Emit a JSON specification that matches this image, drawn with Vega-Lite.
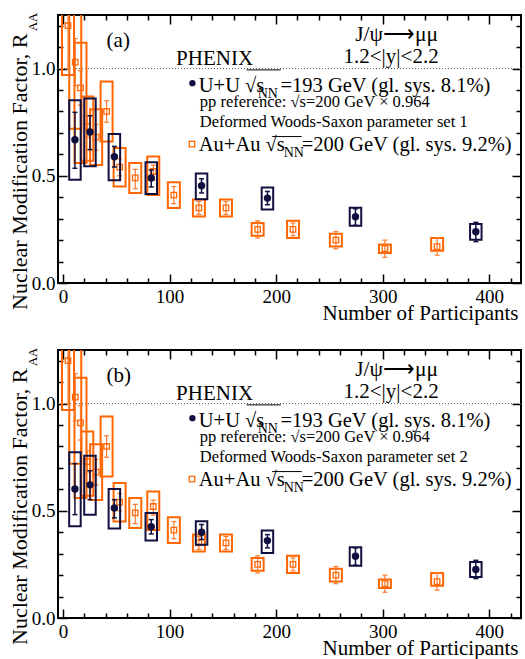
{
  "$schema": "https://vega.github.io/schema/vega-lite/v6.json",
  "background": "white",
  "padding": {"left": 7, "top": 12, "right": 2, "bottom": 0},
  "config": {
    "view": {"stroke": "black", "strokeWidth": 2},
    "text": {"font": "Liberation Serif", "color": "black"}
  },
  "datasets": {
    "one": [{}],
    "auau": [
      {"npart": 4.7, "raa": 1.20, "stat_lo": 1.00, "stat_hi": 1.40, "sys_lo": 0.97, "sys_hi": 1.43},
      {"npart": 11.5, "raa": 1.03, "stat_lo": 0.92, "stat_hi": 1.14, "sys_lo": 0.72, "sys_hi": 1.34},
      {"npart": 16.4, "raa": 0.91, "stat_lo": 0.83, "stat_hi": 0.99, "sys_lo": 0.56, "sys_hi": 1.12},
      {"npart": 22.8, "raa": 0.73, "stat_lo": 0.68, "stat_hi": 0.78, "sys_lo": 0.57, "sys_hi": 0.87},
      {"npart": 31.1, "raa": 0.68, "stat_lo": 0.62, "stat_hi": 0.74, "sys_lo": 0.55, "sys_hi": 0.81},
      {"npart": 40.9, "raa": 0.80, "stat_lo": 0.75, "stat_hi": 0.85, "sys_lo": 0.66, "sys_hi": 0.94},
      {"npart": 53.1, "raa": 0.54, "stat_lo": 0.50, "stat_hi": 0.58, "sys_lo": 0.45, "sys_hi": 0.63},
      {"npart": 67.8, "raa": 0.49, "stat_lo": 0.44, "stat_hi": 0.53, "sys_lo": 0.42, "sys_hi": 0.56},
      {"npart": 84.7, "raa": 0.52, "stat_lo": 0.48, "stat_hi": 0.55, "sys_lo": 0.41, "sys_hi": 0.59},
      {"npart": 104.0, "raa": 0.41, "stat_lo": 0.37, "stat_hi": 0.45, "sys_lo": 0.35, "sys_hi": 0.47},
      {"npart": 127.5, "raa": 0.35, "stat_lo": 0.32, "stat_hi": 0.38, "sys_lo": 0.31, "sys_hi": 0.39},
      {"npart": 152.9, "raa": 0.35, "stat_lo": 0.32, "stat_hi": 0.38, "sys_lo": 0.31, "sys_hi": 0.39},
      {"npart": 182.6, "raa": 0.25, "stat_lo": 0.21, "stat_hi": 0.29, "sys_lo": 0.22, "sys_hi": 0.28},
      {"npart": 215.8, "raa": 0.25, "stat_lo": 0.22, "stat_hi": 0.28, "sys_lo": 0.21, "sys_hi": 0.29},
      {"npart": 256.0, "raa": 0.20, "stat_lo": 0.16, "stat_hi": 0.24, "sys_lo": 0.17, "sys_hi": 0.23},
      {"npart": 302.0, "raa": 0.16, "stat_lo": 0.12, "stat_hi": 0.20, "sys_lo": 0.14, "sys_hi": 0.18},
      {"npart": 351.0, "raa": 0.17, "stat_lo": 0.13, "stat_hi": 0.21, "sys_lo": 0.15, "sys_hi": 0.21}
    ],
    "uu_a": [
      {"npart": 11.2, "raa": 0.668, "stat_lo": 0.535, "stat_hi": 0.796, "sys_lo": 0.482, "sys_hi": 0.852},
      {"npart": 25.3, "raa": 0.704, "stat_lo": 0.622, "stat_hi": 0.780, "sys_lo": 0.544, "sys_hi": 0.861},
      {"npart": 48.2, "raa": 0.589, "stat_lo": 0.541, "stat_hi": 0.637, "sys_lo": 0.479, "sys_hi": 0.695},
      {"npart": 82.8, "raa": 0.490, "stat_lo": 0.448, "stat_hi": 0.527, "sys_lo": 0.415, "sys_hi": 0.563},
      {"npart": 130.0, "raa": 0.454, "stat_lo": 0.420, "stat_hi": 0.486, "sys_lo": 0.391, "sys_hi": 0.511},
      {"npart": 191.8, "raa": 0.396, "stat_lo": 0.365, "stat_hi": 0.427, "sys_lo": 0.343, "sys_hi": 0.446},
      {"npart": 274.4, "raa": 0.309, "stat_lo": 0.269, "stat_hi": 0.346, "sys_lo": 0.267, "sys_hi": 0.351},
      {"npart": 387.3, "raa": 0.239, "stat_lo": 0.193, "stat_hi": 0.283, "sys_lo": 0.202, "sys_hi": 0.275}
    ],
    "uu_b": [
      {"npart": 11.2, "raa": 0.602, "stat_lo": 0.482, "stat_hi": 0.720, "sys_lo": 0.428, "sys_hi": 0.773},
      {"npart": 25.3, "raa": 0.621, "stat_lo": 0.552, "stat_hi": 0.687, "sys_lo": 0.482, "sys_hi": 0.757},
      {"npart": 48.2, "raa": 0.513, "stat_lo": 0.467, "stat_hi": 0.552, "sys_lo": 0.417, "sys_hi": 0.602},
      {"npart": 82.8, "raa": 0.426, "stat_lo": 0.392, "stat_hi": 0.459, "sys_lo": 0.362, "sys_hi": 0.490},
      {"npart": 130.0, "raa": 0.400, "stat_lo": 0.366, "stat_hi": 0.436, "sys_lo": 0.342, "sys_hi": 0.451},
      {"npart": 191.8, "raa": 0.361, "stat_lo": 0.327, "stat_hi": 0.389, "sys_lo": 0.303, "sys_hi": 0.408},
      {"npart": 274.4, "raa": 0.288, "stat_lo": 0.246, "stat_hi": 0.327, "sys_lo": 0.244, "sys_hi": 0.330},
      {"npart": 387.3, "raa": 0.226, "stat_lo": 0.184, "stat_hi": 0.269, "sys_lo": 0.191, "sys_hi": 0.261}
    ]
  },
  "spacing": 23,
  "vconcat": [
    {
      "width": 463, "height": 268,
      "resolve": {"axis": {"x": "independent", "y": "independent"}},
      "layer": [
        {"data": {"name": "one"},
         "mark": {"type": "rule", "color": "#555555", "strokeWidth": 1, "strokeDash": [1, 2]},
         "encoding": {"y": {"datum": 1, "type": "quantitative", "scale": {"domain": [0, 1.25], "nice": false, "zero": false}, "axis": null}}},
        {"data": {"name": "auau"},
         "mark": {"type": "bar", "width": 12, "filled": false, "color": "#ff6600", "strokeWidth": 2, "clip": true},
         "encoding": {
           "x": {"field": "npart", "type": "quantitative", "scale": {"domain": [0, 425], "nice": false, "zero": false},
                 "axis": {"orient": "bottom", "values": [0, 100, 200, 300, 400], "format": "d", "tickSize": -9, "tickWidth": 1.5, "tickColor": "black", "domain": false, "grid": false,
                          "labelFont": "Liberation Serif", "labelFontSize": 19, "labelColor": "black", "labelPadding": 13, "labelFlush": false, "labelOverlap": false,
                          "title": "Number of Participants", "titleFont": "Liberation Serif", "titleFontSize": 21, "titleFontWeight": "normal", "titleColor": "black",
                          "titleAnchor": "end", "titleAlign": "right", "titleBaseline": "alphabetic", "titleX": 460, "titleY": 36}},
           "y": {"field": "sys_lo", "type": "quantitative", "scale": {"domain": [0, 1.25], "nice": false, "zero": false},
                 "axis": {"orient": "left", "values": [0, 0.5, 1], "format": ".1f", "tickSize": -9, "tickWidth": 1.5, "tickColor": "black", "domain": false, "grid": false,
                          "labelFont": "Liberation Serif", "labelFontSize": 19, "labelColor": "black", "labelPadding": 12, "labelFlush": false, "labelOverlap": false,
                          "title": "Nuclear Modification Factor, R", "titleFont": "Liberation Serif", "titleFontSize": 22, "titleFontWeight": "normal", "titleColor": "black",
                          "titleAngle": 270, "titleAlign": "right", "titleBaseline": "alphabetic", "titleX": -32, "titleY": 18}},
           "y2": {"field": "sys_hi"}
         }},
        {"data": {"name": "auau"},
         "mark": {"type": "rule", "color": "#ff7a2e", "strokeWidth": 1.2, "clip": true},
         "encoding": {
           "x": {"field": "npart", "type": "quantitative", "axis": {"orient": "bottom", "values": [20, 40, 60, 80, 120, 140, 160, 180, 220, 240, 260, 280, 320, 340, 360, 380, 420], "tickSize": -5, "tickWidth": 1.5, "tickColor": "black", "domain": false, "grid": false, "labels": false, "title": null}},
           "y": {"field": "stat_lo", "type": "quantitative", "axis": {"orient": "left", "values": [0.1, 0.2, 0.3, 0.4, 0.6, 0.7, 0.8, 0.9, 1.1, 1.2], "tickSize": -5, "tickWidth": 1.5, "tickColor": "black", "domain": false, "grid": false, "labels": false, "title": null}},
           "y2": {"field": "stat_hi"}
         }},
        {"data": {"name": "auau"},
         "mark": {"type": "tick", "orient": "horizontal", "size": 5, "thickness": 1.2, "color": "#ff7a2e", "opacity": 1, "clip": true},
         "encoding": {
           "x": {"field": "npart", "type": "quantitative", "axis": {"orient": "top", "values": [0, 100, 200, 300, 400], "tickSize": -9, "tickWidth": 1.5, "tickColor": "black", "domain": false, "grid": false, "labels": false, "title": null}},
           "y": {"field": "stat_hi", "type": "quantitative", "axis": {"orient": "right", "values": [0, 0.5, 1], "tickSize": -9, "tickWidth": 1.5, "tickColor": "black", "domain": false, "grid": false, "labels": false, "title": null}}
         }},
        {"data": {"name": "auau"},
         "mark": {"type": "tick", "orient": "horizontal", "size": 5, "thickness": 1.2, "color": "#ff7a2e", "opacity": 1, "clip": true},
         "encoding": {
           "x": {"field": "npart", "type": "quantitative", "axis": {"orient": "top", "values": [20, 40, 60, 80, 120, 140, 160, 180, 220, 240, 260, 280, 320, 340, 360, 380, 420], "tickSize": -5, "tickWidth": 1.5, "tickColor": "black", "domain": false, "grid": false, "labels": false, "title": null}},
           "y": {"field": "stat_lo", "type": "quantitative", "axis": {"orient": "right", "values": [0.1, 0.2, 0.3, 0.4, 0.6, 0.7, 0.8, 0.9, 1.1, 1.2], "tickSize": -5, "tickWidth": 1.5, "tickColor": "black", "domain": false, "grid": false, "labels": false, "title": null}}
         }},
        {"data": {"name": "auau"},
         "mark": {"type": "point", "shape": "square", "filled": false, "size": 30, "strokeWidth": 1.3, "color": "#ff6600", "opacity": 1, "clip": true},
         "encoding": {"x": {"field": "npart", "type": "quantitative", "axis": null}, "y": {"field": "raa", "type": "quantitative", "axis": null}}},
        {"data": {"name": "uu_a"},
         "mark": {"type": "bar", "width": 11.5, "filled": false, "color": "#101040", "strokeWidth": 2, "clip": true},
         "encoding": {"x": {"field": "npart", "type": "quantitative", "axis": null}, "y": {"field": "sys_lo", "type": "quantitative", "axis": null}, "y2": {"field": "sys_hi"}}},
        {"data": {"name": "uu_a"},
         "mark": {"type": "rule", "color": "#101040", "strokeWidth": 1.5, "clip": true},
         "encoding": {"x": {"field": "npart", "type": "quantitative", "axis": null}, "y": {"field": "stat_lo", "type": "quantitative", "axis": null}, "y2": {"field": "stat_hi"}}},
        {"data": {"name": "uu_a"},
         "mark": {"type": "tick", "orient": "horizontal", "size": 5, "thickness": 1.5, "color": "#101040", "opacity": 1, "clip": true},
         "encoding": {"x": {"field": "npart", "type": "quantitative", "axis": null}, "y": {"field": "stat_hi", "type": "quantitative", "axis": null}}},
        {"data": {"name": "uu_a"},
         "mark": {"type": "tick", "orient": "horizontal", "size": 5, "thickness": 1.5, "color": "#101040", "opacity": 1, "clip": true},
         "encoding": {"x": {"field": "npart", "type": "quantitative", "axis": null}, "y": {"field": "stat_lo", "type": "quantitative", "axis": null}}},
        {"data": {"name": "uu_a"},
         "mark": {"type": "point", "shape": "circle", "filled": true, "size": 55, "color": "#101040", "opacity": 1, "clip": true},
         "encoding": {"x": {"field": "npart", "type": "quantitative", "axis": null}, "y": {"field": "raa", "type": "quantitative", "axis": null}}},
        {"data": {"name": "one"}, "mark": {"type": "text", "text": "(a)", "fontSize": 21, "align": "left", "baseline": "alphabetic"},
         "encoding": {"x": {"datum": 40.9, "type": "quantitative", "axis": null}, "y": {"datum": 1.10, "type": "quantitative", "axis": null}}},
        {"data": {"name": "one"}, "mark": {"type": "text", "text": "PHENIX", "fontSize": 21, "align": "left", "baseline": "alphabetic"},
         "encoding": {"x": {"datum": 106.1, "type": "quantitative", "axis": null}, "y": {"datum": 1.018, "type": "quantitative", "axis": null}}},
        {"data": {"name": "one"}, "mark": {"type": "text", "text": "J/ψ⟶μμ", "fontSize": 21.5, "align": "center", "baseline": "alphabetic"},
         "encoding": {"x": {"datum": 313, "type": "quantitative", "axis": null}, "y": {"datum": 1.13, "type": "quantitative", "axis": null}}},
        {"data": {"name": "one"}, "mark": {"type": "text", "text": "1.2<|y|<2.2", "fontSize": 21, "align": "center", "baseline": "alphabetic"},
         "encoding": {"x": {"datum": 307.8, "type": "quantitative", "axis": null}, "y": {"datum": 1.028, "type": "quantitative", "axis": null}}},
        {"data": {"name": "one"}, "mark": {"type": "point", "shape": "circle", "filled": true, "size": 40, "color": "#101040", "opacity": 1},
         "encoding": {"x": {"datum": 121.4, "type": "quantitative", "axis": null}, "y": {"datum": 0.932, "type": "quantitative", "axis": null}}},
        {"data": {"name": "one"}, "mark": {"type": "text", "text": "U+U √s", "fontSize": 20.5, "align": "left", "baseline": "alphabetic"},
         "encoding": {"x": {"datum": 127.4, "type": "quantitative", "axis": null}, "y": {"datum": 0.893, "type": "quantitative", "axis": null}}},
        {"data": {"name": "one"}, "mark": {"type": "text", "text": "NN", "fontSize": 14, "align": "left", "baseline": "alphabetic"},
         "encoding": {"x": {"datum": 182.6, "type": "quantitative", "axis": null}, "y": {"datum": 0.865, "type": "quantitative", "axis": null}}},
        {"data": {"name": "one"}, "mark": {"type": "rule", "color": "black", "strokeWidth": 1},
         "encoding": {"x": {"datum": 172.2, "type": "quantitative", "axis": null}, "x2": {"datum": 204.3}, "y": {"datum": 0.994, "type": "quantitative", "axis": null}}},
        {"data": {"name": "one"}, "mark": {"type": "text", "text": "=193 GeV (gl. sys. 8.1%)", "fontSize": 20.5, "align": "left", "baseline": "alphabetic"},
         "encoding": {"x": {"datum": 204.0, "type": "quantitative", "axis": null}, "y": {"datum": 0.893, "type": "quantitative", "axis": null}}},
        {"data": {"name": "one"}, "mark": {"type": "text", "text": "pp reference: √s=200 GeV × 0.964", "fontSize": 16.5, "align": "left", "baseline": "alphabetic"},
         "encoding": {"x": {"datum": 128.4, "type": "quantitative", "axis": null}, "y": {"datum": 0.820, "type": "quantitative", "axis": null}}},
        {"data": {"name": "one"}, "mark": {"type": "text", "text": "Deformed Woods-Saxon parameter set 1", "fontSize": 16.5, "align": "left", "baseline": "alphabetic"},
         "encoding": {"x": {"datum": 128.4, "type": "quantitative", "axis": null}, "y": {"datum": 0.727, "type": "quantitative", "axis": null}}},
        {"data": {"name": "one"}, "mark": {"type": "point", "shape": "square", "filled": false, "size": 30, "strokeWidth": 1.3, "color": "#ff6600", "opacity": 1},
         "encoding": {"x": {"datum": 121.0, "type": "quantitative", "axis": null}, "y": {"datum": 0.648, "type": "quantitative", "axis": null}}},
        {"data": {"name": "one"}, "mark": {"type": "text", "text": "Au+Au √s", "fontSize": 20.5, "align": "left", "baseline": "alphabetic"},
         "encoding": {"x": {"datum": 127.4, "type": "quantitative", "axis": null}, "y": {"datum": 0.614, "type": "quantitative", "axis": null}}},
        {"data": {"name": "one"}, "mark": {"type": "text", "text": "NN", "fontSize": 14, "align": "left", "baseline": "alphabetic"},
         "encoding": {"x": {"datum": 207.1, "type": "quantitative", "axis": null}, "y": {"datum": 0.590, "type": "quantitative", "axis": null}}},
        {"data": {"name": "one"}, "mark": {"type": "rule", "color": "black", "strokeWidth": 1},
         "encoding": {"x": {"datum": 196.3, "type": "quantitative", "axis": null}, "x2": {"datum": 223.9}, "y": {"datum": 0.683, "type": "quantitative", "axis": null}}},
        {"data": {"name": "one"}, "mark": {"type": "text", "text": "=200 GeV (gl. sys. 9.2%)", "fontSize": 20.5, "align": "left", "baseline": "alphabetic"},
         "encoding": {"x": {"datum": 223.9, "type": "quantitative", "axis": null}, "y": {"datum": 0.614, "type": "quantitative", "axis": null}}},
        {"data": {"name": "one"}, "mark": {"type": "text", "text": "AA", "fontSize": 12.5, "angle": 270, "align": "left", "baseline": "alphabetic"},
         "encoding": {"x": {"datum": -24.3, "type": "quantitative", "axis": null}, "y": {"datum": 1.175, "type": "quantitative", "axis": null}}}
      ]
    },
    {
      "width": 463, "height": 268,
      "resolve": {"axis": {"x": "independent", "y": "independent"}},
      "layer": [
        {"data": {"name": "one"},
         "mark": {"type": "rule", "color": "#555555", "strokeWidth": 1, "strokeDash": [1, 2]},
         "encoding": {"y": {"datum": 1, "type": "quantitative", "scale": {"domain": [0, 1.25], "nice": false, "zero": false}, "axis": null}}},
        {"data": {"name": "auau"},
         "mark": {"type": "bar", "width": 12, "filled": false, "color": "#ff6600", "strokeWidth": 2, "clip": true},
         "encoding": {
           "x": {"field": "npart", "type": "quantitative", "scale": {"domain": [0, 425], "nice": false, "zero": false},
                 "axis": {"orient": "bottom", "values": [0, 100, 200, 300, 400], "format": "d", "tickSize": -9, "tickWidth": 1.5, "tickColor": "black", "domain": false, "grid": false,
                          "labelFont": "Liberation Serif", "labelFontSize": 19, "labelColor": "black", "labelPadding": 13, "labelFlush": false, "labelOverlap": false,
                          "title": "Number of Participants", "titleFont": "Liberation Serif", "titleFontSize": 21, "titleFontWeight": "normal", "titleColor": "black",
                          "titleAnchor": "end", "titleAlign": "right", "titleBaseline": "alphabetic", "titleX": 460, "titleY": 36}},
           "y": {"field": "sys_lo", "type": "quantitative", "scale": {"domain": [0, 1.25], "nice": false, "zero": false},
                 "axis": {"orient": "left", "values": [0, 0.5, 1], "format": ".1f", "tickSize": -9, "tickWidth": 1.5, "tickColor": "black", "domain": false, "grid": false,
                          "labelFont": "Liberation Serif", "labelFontSize": 19, "labelColor": "black", "labelPadding": 12, "labelFlush": false, "labelOverlap": false,
                          "title": "Nuclear Modification Factor, R", "titleFont": "Liberation Serif", "titleFontSize": 22, "titleFontWeight": "normal", "titleColor": "black",
                          "titleAngle": 270, "titleAlign": "right", "titleBaseline": "alphabetic", "titleX": -32, "titleY": 18}},
           "y2": {"field": "sys_hi"}
         }},
        {"data": {"name": "auau"},
         "mark": {"type": "rule", "color": "#ff7a2e", "strokeWidth": 1.2, "clip": true},
         "encoding": {
           "x": {"field": "npart", "type": "quantitative", "axis": {"orient": "bottom", "values": [20, 40, 60, 80, 120, 140, 160, 180, 220, 240, 260, 280, 320, 340, 360, 380, 420], "tickSize": -5, "tickWidth": 1.5, "tickColor": "black", "domain": false, "grid": false, "labels": false, "title": null}},
           "y": {"field": "stat_lo", "type": "quantitative", "axis": {"orient": "left", "values": [0.1, 0.2, 0.3, 0.4, 0.6, 0.7, 0.8, 0.9, 1.1, 1.2], "tickSize": -5, "tickWidth": 1.5, "tickColor": "black", "domain": false, "grid": false, "labels": false, "title": null}},
           "y2": {"field": "stat_hi"}
         }},
        {"data": {"name": "auau"},
         "mark": {"type": "tick", "orient": "horizontal", "size": 5, "thickness": 1.2, "color": "#ff7a2e", "opacity": 1, "clip": true},
         "encoding": {
           "x": {"field": "npart", "type": "quantitative", "axis": {"orient": "top", "values": [0, 100, 200, 300, 400], "tickSize": -9, "tickWidth": 1.5, "tickColor": "black", "domain": false, "grid": false, "labels": false, "title": null}},
           "y": {"field": "stat_hi", "type": "quantitative", "axis": {"orient": "right", "values": [0, 0.5, 1], "tickSize": -9, "tickWidth": 1.5, "tickColor": "black", "domain": false, "grid": false, "labels": false, "title": null}}
         }},
        {"data": {"name": "auau"},
         "mark": {"type": "tick", "orient": "horizontal", "size": 5, "thickness": 1.2, "color": "#ff7a2e", "opacity": 1, "clip": true},
         "encoding": {
           "x": {"field": "npart", "type": "quantitative", "axis": {"orient": "top", "values": [20, 40, 60, 80, 120, 140, 160, 180, 220, 240, 260, 280, 320, 340, 360, 380, 420], "tickSize": -5, "tickWidth": 1.5, "tickColor": "black", "domain": false, "grid": false, "labels": false, "title": null}},
           "y": {"field": "stat_lo", "type": "quantitative", "axis": {"orient": "right", "values": [0.1, 0.2, 0.3, 0.4, 0.6, 0.7, 0.8, 0.9, 1.1, 1.2], "tickSize": -5, "tickWidth": 1.5, "tickColor": "black", "domain": false, "grid": false, "labels": false, "title": null}}
         }},
        {"data": {"name": "auau"},
         "mark": {"type": "point", "shape": "square", "filled": false, "size": 30, "strokeWidth": 1.3, "color": "#ff6600", "opacity": 1, "clip": true},
         "encoding": {"x": {"field": "npart", "type": "quantitative", "axis": null}, "y": {"field": "raa", "type": "quantitative", "axis": null}}},
        {"data": {"name": "uu_b"},
         "mark": {"type": "bar", "width": 11.5, "filled": false, "color": "#101040", "strokeWidth": 2, "clip": true},
         "encoding": {"x": {"field": "npart", "type": "quantitative", "axis": null}, "y": {"field": "sys_lo", "type": "quantitative", "axis": null}, "y2": {"field": "sys_hi"}}},
        {"data": {"name": "uu_b"},
         "mark": {"type": "rule", "color": "#101040", "strokeWidth": 1.5, "clip": true},
         "encoding": {"x": {"field": "npart", "type": "quantitative", "axis": null}, "y": {"field": "stat_lo", "type": "quantitative", "axis": null}, "y2": {"field": "stat_hi"}}},
        {"data": {"name": "uu_b"},
         "mark": {"type": "tick", "orient": "horizontal", "size": 5, "thickness": 1.5, "color": "#101040", "opacity": 1, "clip": true},
         "encoding": {"x": {"field": "npart", "type": "quantitative", "axis": null}, "y": {"field": "stat_hi", "type": "quantitative", "axis": null}}},
        {"data": {"name": "uu_b"},
         "mark": {"type": "tick", "orient": "horizontal", "size": 5, "thickness": 1.5, "color": "#101040", "opacity": 1, "clip": true},
         "encoding": {"x": {"field": "npart", "type": "quantitative", "axis": null}, "y": {"field": "stat_lo", "type": "quantitative", "axis": null}}},
        {"data": {"name": "uu_b"},
         "mark": {"type": "point", "shape": "circle", "filled": true, "size": 55, "color": "#101040", "opacity": 1, "clip": true},
         "encoding": {"x": {"field": "npart", "type": "quantitative", "axis": null}, "y": {"field": "raa", "type": "quantitative", "axis": null}}},
        {"data": {"name": "one"}, "mark": {"type": "text", "text": "(b)", "fontSize": 21, "align": "left", "baseline": "alphabetic"},
         "encoding": {"x": {"datum": 40.9, "type": "quantitative", "axis": null}, "y": {"datum": 1.10, "type": "quantitative", "axis": null}}},
        {"data": {"name": "one"}, "mark": {"type": "text", "text": "PHENIX", "fontSize": 21, "align": "left", "baseline": "alphabetic"},
         "encoding": {"x": {"datum": 106.1, "type": "quantitative", "axis": null}, "y": {"datum": 1.018, "type": "quantitative", "axis": null}}},
        {"data": {"name": "one"}, "mark": {"type": "text", "text": "J/ψ⟶μμ", "fontSize": 21.5, "align": "center", "baseline": "alphabetic"},
         "encoding": {"x": {"datum": 313, "type": "quantitative", "axis": null}, "y": {"datum": 1.13, "type": "quantitative", "axis": null}}},
        {"data": {"name": "one"}, "mark": {"type": "text", "text": "1.2<|y|<2.2", "fontSize": 21, "align": "center", "baseline": "alphabetic"},
         "encoding": {"x": {"datum": 307.8, "type": "quantitative", "axis": null}, "y": {"datum": 1.028, "type": "quantitative", "axis": null}}},
        {"data": {"name": "one"}, "mark": {"type": "point", "shape": "circle", "filled": true, "size": 40, "color": "#101040", "opacity": 1},
         "encoding": {"x": {"datum": 121.4, "type": "quantitative", "axis": null}, "y": {"datum": 0.932, "type": "quantitative", "axis": null}}},
        {"data": {"name": "one"}, "mark": {"type": "text", "text": "U+U √s", "fontSize": 20.5, "align": "left", "baseline": "alphabetic"},
         "encoding": {"x": {"datum": 127.4, "type": "quantitative", "axis": null}, "y": {"datum": 0.893, "type": "quantitative", "axis": null}}},
        {"data": {"name": "one"}, "mark": {"type": "text", "text": "NN", "fontSize": 14, "align": "left", "baseline": "alphabetic"},
         "encoding": {"x": {"datum": 182.6, "type": "quantitative", "axis": null}, "y": {"datum": 0.865, "type": "quantitative", "axis": null}}},
        {"data": {"name": "one"}, "mark": {"type": "rule", "color": "black", "strokeWidth": 1},
         "encoding": {"x": {"datum": 172.2, "type": "quantitative", "axis": null}, "x2": {"datum": 204.3}, "y": {"datum": 0.994, "type": "quantitative", "axis": null}}},
        {"data": {"name": "one"}, "mark": {"type": "text", "text": "=193 GeV (gl. sys. 8.1%)", "fontSize": 20.5, "align": "left", "baseline": "alphabetic"},
         "encoding": {"x": {"datum": 204.0, "type": "quantitative", "axis": null}, "y": {"datum": 0.893, "type": "quantitative", "axis": null}}},
        {"data": {"name": "one"}, "mark": {"type": "text", "text": "pp reference: √s=200 GeV × 0.964", "fontSize": 16.5, "align": "left", "baseline": "alphabetic"},
         "encoding": {"x": {"datum": 128.4, "type": "quantitative", "axis": null}, "y": {"datum": 0.820, "type": "quantitative", "axis": null}}},
        {"data": {"name": "one"}, "mark": {"type": "text", "text": "Deformed Woods-Saxon parameter set 2", "fontSize": 16.5, "align": "left", "baseline": "alphabetic"},
         "encoding": {"x": {"datum": 128.4, "type": "quantitative", "axis": null}, "y": {"datum": 0.727, "type": "quantitative", "axis": null}}},
        {"data": {"name": "one"}, "mark": {"type": "point", "shape": "square", "filled": false, "size": 30, "strokeWidth": 1.3, "color": "#ff6600", "opacity": 1},
         "encoding": {"x": {"datum": 121.0, "type": "quantitative", "axis": null}, "y": {"datum": 0.648, "type": "quantitative", "axis": null}}},
        {"data": {"name": "one"}, "mark": {"type": "text", "text": "Au+Au √s", "fontSize": 20.5, "align": "left", "baseline": "alphabetic"},
         "encoding": {"x": {"datum": 127.4, "type": "quantitative", "axis": null}, "y": {"datum": 0.614, "type": "quantitative", "axis": null}}},
        {"data": {"name": "one"}, "mark": {"type": "text", "text": "NN", "fontSize": 14, "align": "left", "baseline": "alphabetic"},
         "encoding": {"x": {"datum": 207.1, "type": "quantitative", "axis": null}, "y": {"datum": 0.590, "type": "quantitative", "axis": null}}},
        {"data": {"name": "one"}, "mark": {"type": "rule", "color": "black", "strokeWidth": 1},
         "encoding": {"x": {"datum": 196.3, "type": "quantitative", "axis": null}, "x2": {"datum": 223.9}, "y": {"datum": 0.683, "type": "quantitative", "axis": null}}},
        {"data": {"name": "one"}, "mark": {"type": "text", "text": "=200 GeV (gl. sys. 9.2%)", "fontSize": 20.5, "align": "left", "baseline": "alphabetic"},
         "encoding": {"x": {"datum": 223.9, "type": "quantitative", "axis": null}, "y": {"datum": 0.614, "type": "quantitative", "axis": null}}},
        {"data": {"name": "one"}, "mark": {"type": "text", "text": "AA", "fontSize": 12.5, "angle": 270, "align": "left", "baseline": "alphabetic"},
         "encoding": {"x": {"datum": -24.3, "type": "quantitative", "axis": null}, "y": {"datum": 1.175, "type": "quantitative", "axis": null}}}
      ]
    }
  ]
}
